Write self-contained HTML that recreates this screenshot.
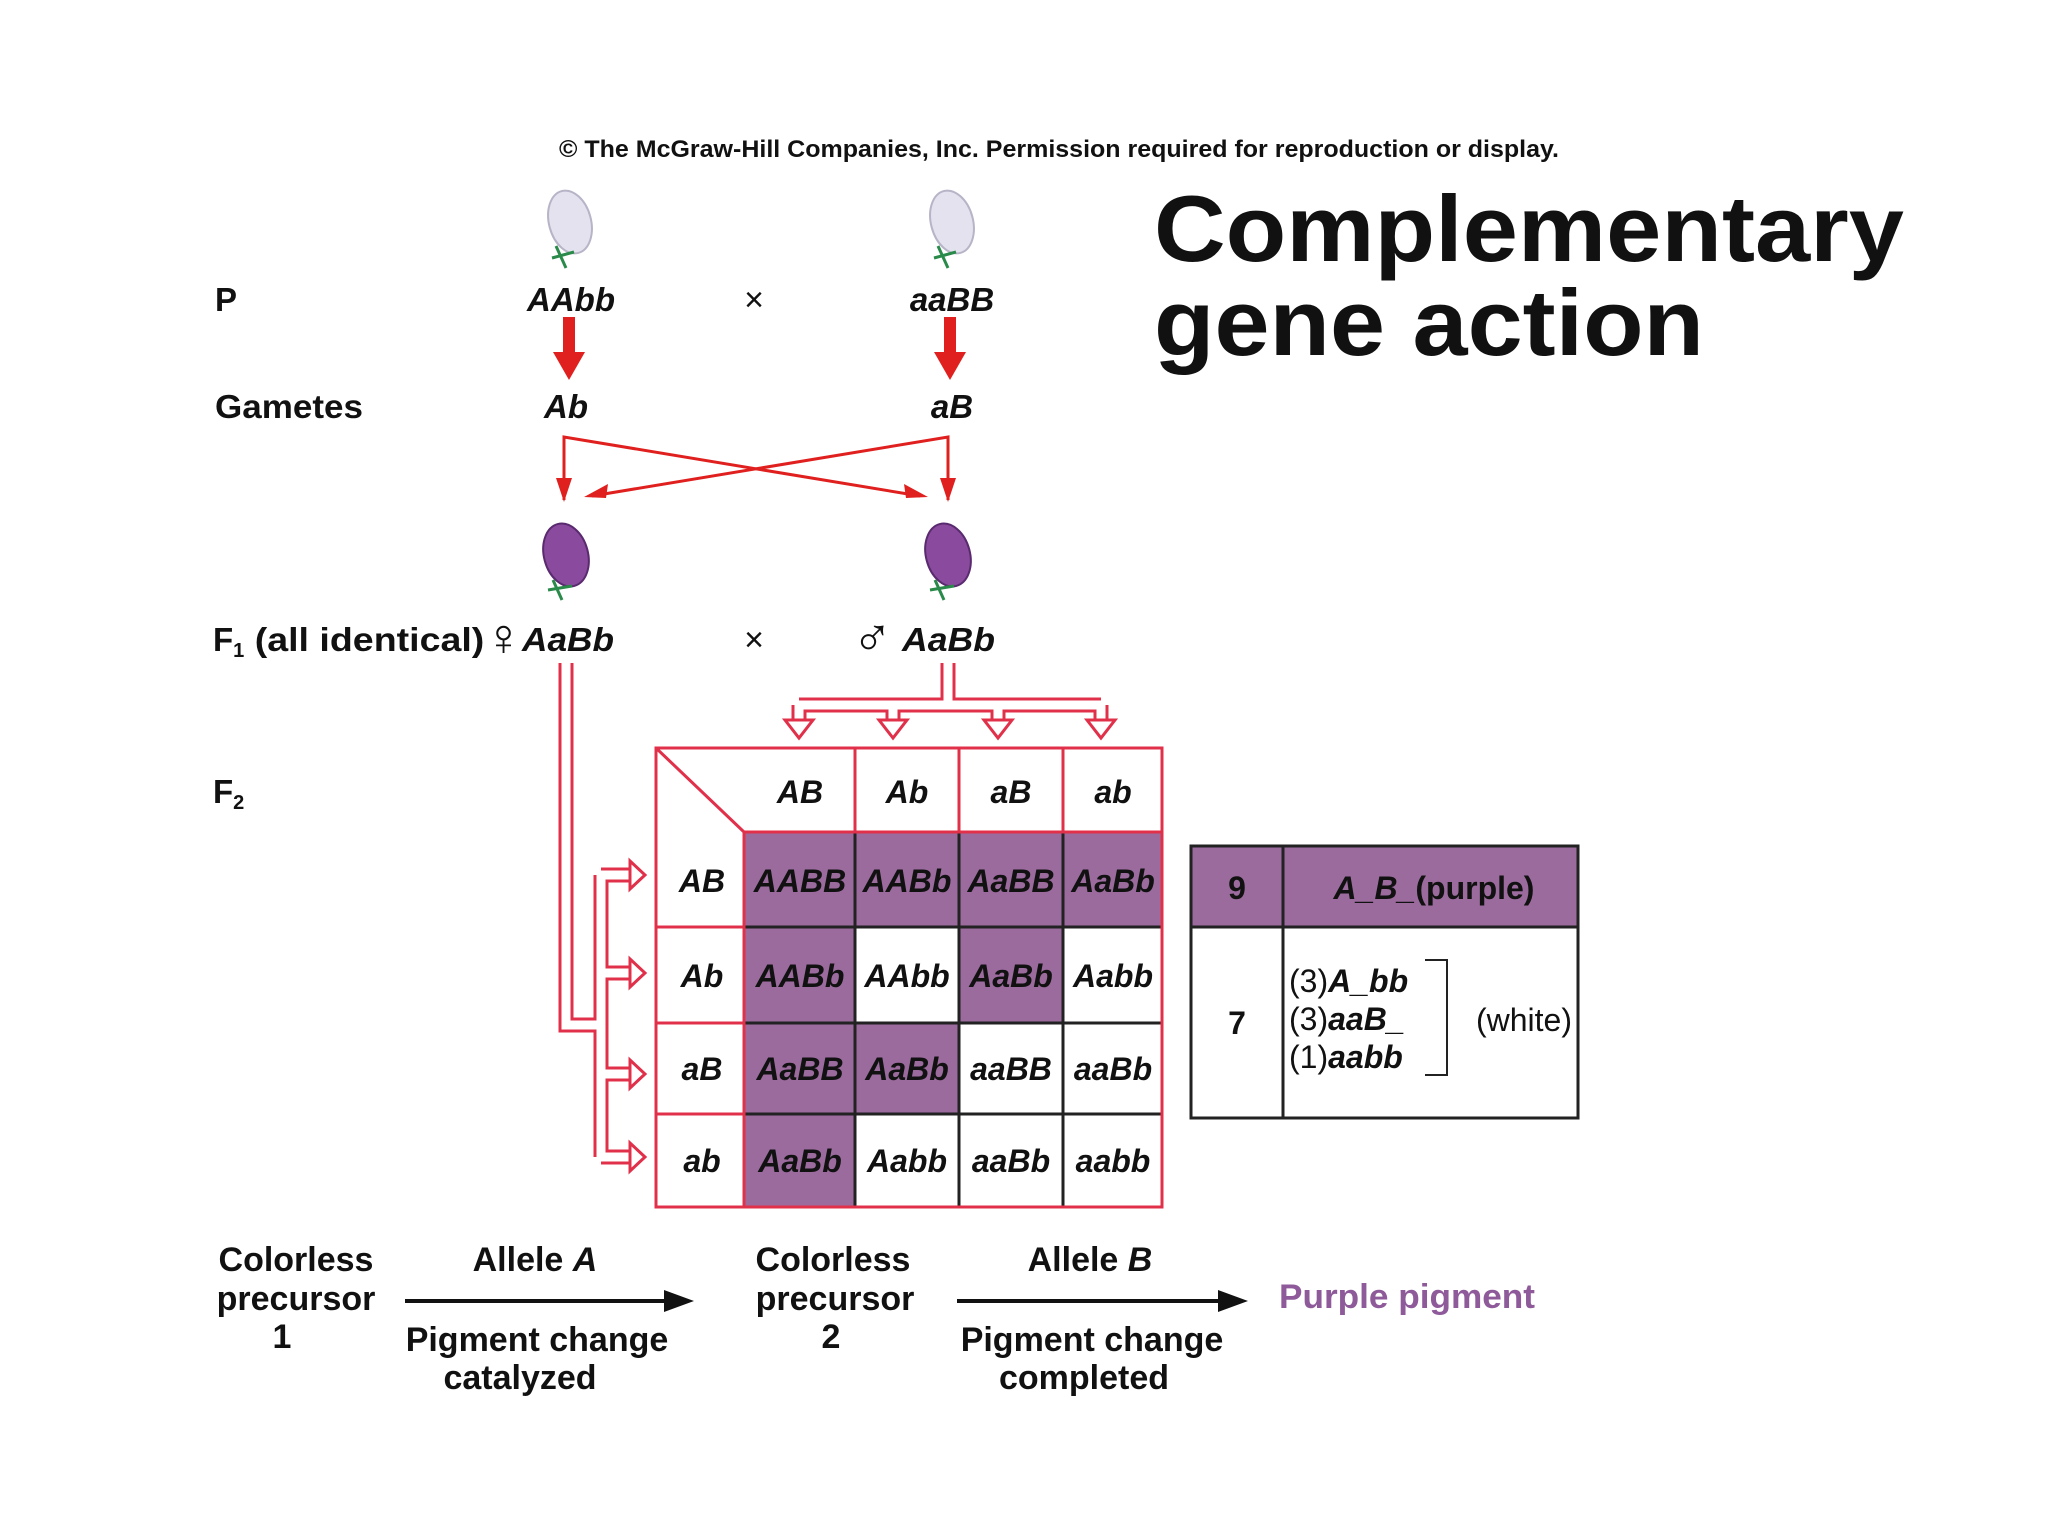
<!DOCTYPE html>
<html><head><meta charset="utf-8"><style>
html,body{margin:0;padding:0;background:#fff;}
svg{display:block;}
text{font-family:"Liberation Sans",Arial,sans-serif;font-weight:bold;fill:#111;}
.i{font-style:italic;}
</style></head><body>
<svg width="2048" height="1536" viewBox="0 0 2048 1536" xmlns="http://www.w3.org/2000/svg">
<rect width="2048" height="1536" fill="#fff"/>
<text x="559" y="157" font-size="24" textLength="1000" lengthAdjust="spacingAndGlyphs" fill="#222">© The McGraw-Hill Companies, Inc.  Permission required for reproduction or display.</text>
<text x="1154" y="261" font-size="94" textLength="750" lengthAdjust="spacingAndGlyphs">Complementary</text>
<text x="1154" y="355" font-size="94" textLength="550" lengthAdjust="spacingAndGlyphs">gene action</text>

<g>
<ellipse cx="570" cy="222" rx="21" ry="32" fill="#e4e2ee" stroke="#b8b4c8" stroke-width="2" transform="rotate(-15 570 222)"/>
<path d="M556 246 L566 268 M552 258 L574 252" stroke="#2a8a4a" stroke-width="3" fill="none"/>
<ellipse cx="952" cy="222" rx="21" ry="32" fill="#e4e2ee" stroke="#b8b4c8" stroke-width="2" transform="rotate(-15 952 222)"/>
<path d="M938 246 L948 268 M934 258 L956 252" stroke="#2a8a4a" stroke-width="3" fill="none"/>
</g>
<g>
<ellipse cx="566" cy="555" rx="22" ry="32" fill="#8a4a9e" stroke="#5a2a6e" stroke-width="2" transform="rotate(-15 566 555)"/>
<path d="M553 580 L562 600 M548 590 L572 586" stroke="#2a8a4a" stroke-width="3" fill="none"/>
<ellipse cx="948" cy="555" rx="22" ry="32" fill="#8a4a9e" stroke="#5a2a6e" stroke-width="2" transform="rotate(-15 948 555)"/>
<path d="M935 580 L944 600 M930 590 L954 586" stroke="#2a8a4a" stroke-width="3" fill="none"/>
</g>

<text x="215" y="311" font-size="33">P</text>
<text x="215" y="418" font-size="33" textLength="148" lengthAdjust="spacingAndGlyphs">Gametes</text>
<text x="213" y="651" font-size="33">F<tspan font-size="20" dy="6">1</tspan><tspan dy="-6" textLength="240" lengthAdjust="spacingAndGlyphs"> (all identical)</tspan></text>
<text x="484" y="655" font-size="52" style="font-weight:normal">♀</text>
<text x="522" y="651" font-size="33" class="i" textLength="92" lengthAdjust="spacingAndGlyphs">AaBb</text>
<text x="213" y="803" font-size="33">F<tspan font-size="20" dy="6">2</tspan></text>

<text x="571" y="311" font-size="33" class="i" text-anchor="middle">AAbb</text>
<text x="952" y="311" font-size="33" class="i" text-anchor="middle">aaBB</text>
<text x="754" y="311" font-size="34" text-anchor="middle" style="font-weight:normal">×</text>
<text x="566" y="418" font-size="33" class="i" text-anchor="middle">Ab</text>
<text x="952" y="418" font-size="33" class="i" text-anchor="middle">aB</text>
<text x="754" y="651" font-size="34" text-anchor="middle" style="font-weight:normal">×</text>
<text x="852" y="656" font-size="54" style="font-weight:normal">♂</text>
<text x="902" y="651" font-size="33" class="i" textLength="93" lengthAdjust="spacingAndGlyphs">AaBb</text>

<g fill="#e0201e">
<rect x="563" y="317" width="12" height="40"/><polygon points="553,352 585,352 569,380"/>
<rect x="944" y="317" width="12" height="40"/><polygon points="934,352 966,352 950,380"/>
</g>
<g stroke="#e0201e" stroke-width="3" fill="none">
<path d="M564 500 V437 L920 496"/>
<path d="M948 500 V437 L592 496"/>
</g>
<g fill="#e0201e">
<polygon points="556,478 572,478 564,502"/>
<polygon points="940,478 956,478 948,502"/>
<polygon points="584,497 608,484 606,498"/>
<polygon points="928,497 904,484 906,498"/>
</g>

<g fill="none" stroke-linejoin="miter">
<path d="M566 663 V1025 H601 M601 875 V1157 M601 875 H632 M601 973 H632 M601 1074 H632 M601 1157 H632" stroke="#e0304a" stroke-width="15"/>
<path d="M566 663 V1025 H601 M601 875 V1157 M601 875 H634 M601 973 H634 M601 1074 H634 M601 1157 H634" stroke="#fff" stroke-width="9"/>
<path d="M948 663 V705 M799 705 H1101 M799 705 V722 M893 705 V722 M998 705 V722 M1101 705 V722" stroke="#e0304a" stroke-width="15"/>
<path d="M948 663 V707 M799 705 H1101 M799 705 V724 M893 705 V724 M998 705 V724 M1101 705 V724" stroke="#fff" stroke-width="9"/>
</g>
<g fill="#fff" stroke="#e0304a" stroke-width="3">
<polygon points="630,861 645,875 630,889"/>
<polygon points="630,959 645,973 630,987"/>
<polygon points="630,1060 645,1074 630,1088"/>
<polygon points="630,1143 645,1157 630,1171"/>
<polygon points="785,720 813,720 799,738"/>
<polygon points="879,720 907,720 893,738"/>
<polygon points="984,720 1012,720 998,738"/>
<polygon points="1087,720 1115,720 1101,738"/>
</g>

<g fill="#9b6b9e">
<rect x="744" y="832" width="418" height="95"/>
<rect x="744" y="927" width="111" height="280"/>
<rect x="959" y="927" width="104" height="96"/>
<rect x="855" y="1023" width="104" height="91"/>
</g>
<g stroke="#222" stroke-width="3" fill="none">
<path d="M855 832 V1207 M959 832 V1207 M1063 832 V1207 M744 927 H1162 M744 1023 H1162 M744 1114 H1162"/>
</g>
<g stroke="#e0304a" stroke-width="3" fill="none">
<rect x="656" y="748" width="506" height="459"/>
<path d="M855 748 V832 M959 748 V832 M1063 748 V832 M744 832 H1162 M744 832 V1207 M656 927 H744 M656 1023 H744 M656 1114 H744 M656 748 L744 832"/>
</g>
<g font-size="32" class="i" text-anchor="middle">
<text x="800" y="803" class="i">AB</text><text x="907" y="803" class="i">Ab</text><text x="1011" y="803" class="i">aB</text><text x="1113" y="803" class="i">ab</text>
<text x="702" y="892" class="i">AB</text><text x="702" y="987" class="i">Ab</text><text x="702" y="1080" class="i">aB</text><text x="702" y="1172" class="i">ab</text>
<text x="800" y="892" class="i">AABB</text><text x="907" y="892" class="i">AABb</text><text x="1011" y="892" class="i">AaBB</text><text x="1113" y="892" class="i">AaBb</text>
<text x="800" y="987" class="i">AABb</text><text x="907" y="987" class="i">AAbb</text><text x="1011" y="987" class="i">AaBb</text><text x="1113" y="987" class="i">Aabb</text>
<text x="800" y="1080" class="i">AaBB</text><text x="907" y="1080" class="i">AaBb</text><text x="1011" y="1080" class="i">aaBB</text><text x="1113" y="1080" class="i">aaBb</text>
<text x="800" y="1172" class="i">AaBb</text><text x="907" y="1172" class="i">Aabb</text><text x="1011" y="1172" class="i">aaBb</text><text x="1113" y="1172" class="i">aabb</text>
</g>

<rect x="1191" y="846" width="387" height="81" fill="#9b6b9e"/>
<g stroke="#222" stroke-width="3" fill="none">
<rect x="1191" y="846" width="387" height="272"/>
<path d="M1283 846 V1118 M1191 927 H1578"/>
<path d="M1425 960 H1447 V1075 H1425" stroke-width="2"/>
</g>
<text x="1237" y="899" font-size="32" text-anchor="middle">9</text>
<text x="1434" y="899" font-size="32" text-anchor="middle"><tspan class="i">A_B_</tspan>(purple)</text>
<text x="1237" y="1034" font-size="32" text-anchor="middle">7</text>
<text x="1289" y="992" font-size="32" style="font-weight:normal">(3)<tspan class="i" font-weight="bold">A_bb</tspan></text>
<text x="1289" y="1030" font-size="32" style="font-weight:normal">(3)<tspan class="i" font-weight="bold">aaB_</tspan></text>
<text x="1289" y="1068" font-size="32" style="font-weight:normal">(1)<tspan class="i" font-weight="bold">aabb</tspan></text>
<text x="1572" y="1031" font-size="32" text-anchor="end" style="font-weight:normal">(white)</text>

<g font-size="34" text-anchor="middle">
<text x="296" y="1271">Colorless</text><text x="296" y="1310">precursor</text><text x="282" y="1348">1</text>
<text x="535" y="1271">Allele <tspan class="i">A</tspan></text>
<text x="537" y="1351">Pigment change</text><text x="520" y="1389">catalyzed</text>
<text x="833" y="1271">Colorless</text><text x="835" y="1310">precursor</text><text x="831" y="1348">2</text>
<text x="1090" y="1271">Allele <tspan class="i">B</tspan></text>
<text x="1092" y="1351">Pigment change</text><text x="1084" y="1389">completed</text>
</g>
<text x="1279" y="1308" font-size="34" textLength="256" lengthAdjust="spacingAndGlyphs" style="fill:#8e5a9a">Purple pigment</text>
<g stroke="#111" stroke-width="4"><path d="M405 1301 H668 M957 1301 H1222"/></g>
<g fill="#111"><polygon points="664,1290 694,1301 664,1312"/><polygon points="1218,1290 1248,1301 1218,1312"/></g>
</svg>
</body></html>
